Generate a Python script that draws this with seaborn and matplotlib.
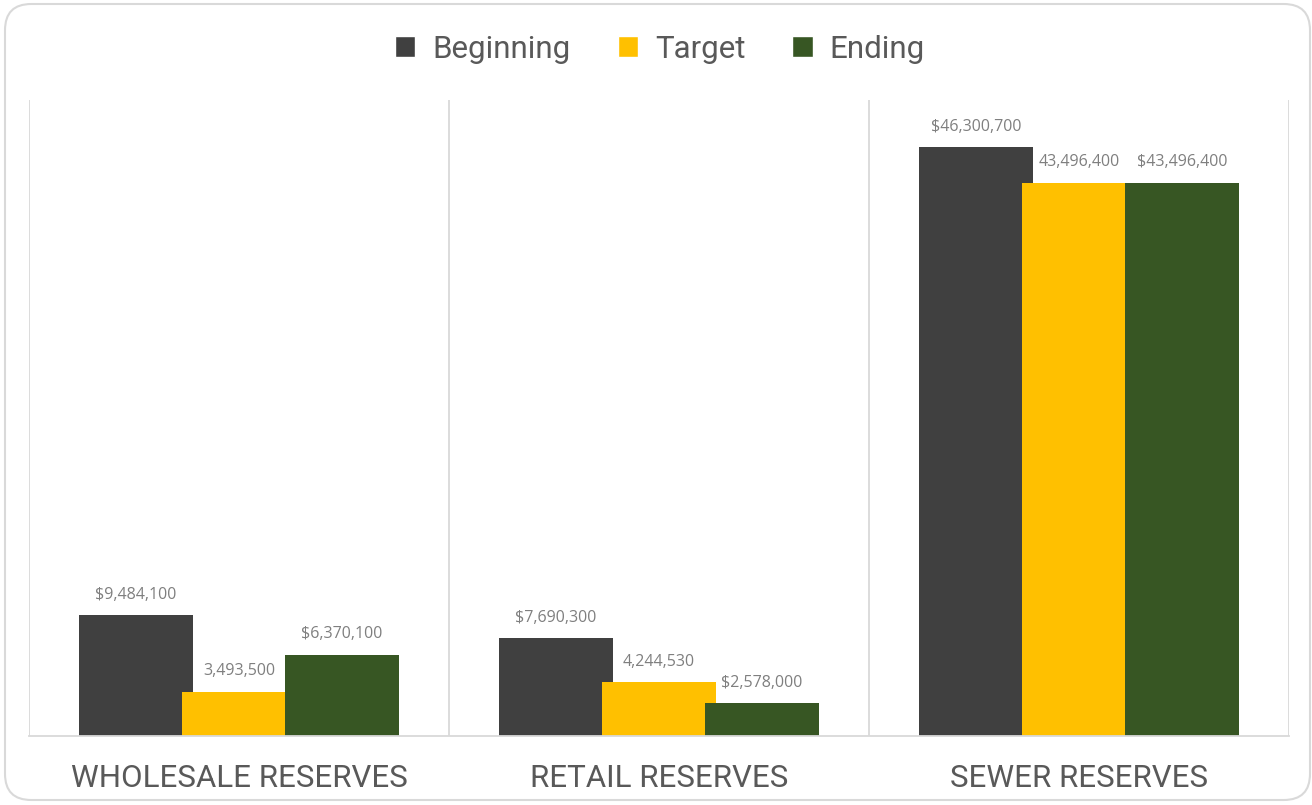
import matplotlib
matplotlib.use("Agg")
import matplotlib.pyplot as plt
import seaborn as sns
import pandas as pd
from matplotlib.patches import FancyBboxPatch

categories = ["WHOLESALE RESERVES", "RETAIL RESERVES", "SEWER RESERVES"]
series = ["Beginning", "Target", "Ending"]
beginning = [9484100, 7690300, 46300700]
target = [3493500, 4244530, 43496400]
ending = [6370100, 2578000, 43496400]
label_prefix = {"Beginning": "$", "Target": "", "Ending": "$"}
colors = ["#404040", "#FFC000", "#375623"]

rows = []
for s, vals in zip(series, [beginning, target, ending]):
    for c, v in zip(categories, vals):
        rows.append({"category": c, "series": s, "value": v})
df = pd.DataFrame(rows)

sns.set_theme(style="white")
plt.rcParams["font.family"] = ["Roboto", "DejaVu Sans"]

fig = plt.figure(figsize=(13.12, 8.05), dpi=100)
W, H = 1312, 805
ax = fig.add_axes([29 / W, 1 - 736 / H, (1289 - 29) / W, (736 - 100) / H])

sns.barplot(data=df, x="category", y="value", hue="series", order=categories,
            hue_order=series, palette=colors, width=0.735, dodge=True,
            saturation=1, ax=ax, legend=True, errorbar=None)

# widen bars so they overlap slightly (Excel-like overlap)
new_w = 0.272
for p in ax.patches:
    if p.get_height() == 0 and p.get_width() == 0:
        continue
    cx = p.get_x() + p.get_width() / 2
    p.set_width(new_w)
    p.set_x(cx - new_w / 2)
    p.set_linewidth(0)

# data labels
for container, s in zip(ax.containers, series):
    labels = [f"{label_prefix[s]}{v:,.0f}" for v in container.datavalues]
    ax.bar_label(container, labels=labels, padding=9, fontsize=11.5,
                 color="#7f7f7f", family=["Open Sans", "DejaVu Sans"])

ax.set_xlim(-0.5, 2.5)
ax.set_ylim(0, 50000000)
ax.set_yticks([])
ax.set_xlabel("")
ax.set_ylabel("")
for sp in ["top", "left", "right"]:
    ax.spines[sp].set_visible(False)
ax.spines["bottom"].set_color("#d9d9d9")
ax.spines["bottom"].set_linewidth(1.3)
ax.set_xticks([-0.5, 0.5, 1.5, 2.5], minor=True)
ax.grid(True, which="minor", axis="x", color="#d9d9d9", linewidth=1.3)
ax.set_axisbelow(True)
ax.tick_params(axis="x", which="both", length=0, pad=20)
for t in ax.get_xticklabels():
    t.set_fontsize(22.5)
    t.set_color("#595959")

# legend
handles, labels = ax.get_legend_handles_labels()
ax.get_legend().remove()
leg = fig.legend(handles, labels, loc="center", bbox_to_anchor=(660 / W, 1 - 49 / H),
                 ncol=3, frameon=False, fontsize=22.5, handlelength=0.65,
                 handleheight=0.65, handletextpad=0.55, columnspacing=1.5)
for t in leg.get_texts():
    t.set_color("#595959")

# rounded border
border = FancyBboxPatch((5 / W, 5 / H), (1310 - 5) / W, (802 - 6) / H,
                        boxstyle="round,pad=0,rounding_size=0.02",
                        transform=fig.transFigure, facecolor="none",
                        edgecolor="#d9d9d9", linewidth=1.5, mutation_aspect=W / H)
fig.patches.append(border)

fig.savefig("out.png", dpi=100)
